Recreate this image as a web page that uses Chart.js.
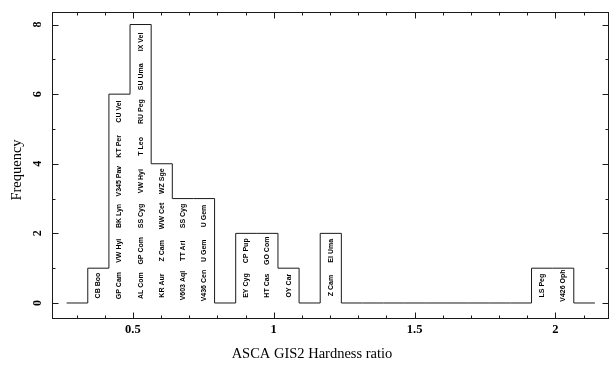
<!DOCTYPE html>
<html>
<head>
<meta charset="utf-8">
<script src="https://cdn.jsdelivr.net/npm/chart.js@4/dist/chart.umd.min.js"></script>
<style>
  html, body { margin: 0; padding: 0; background: #fff; }
  #wrap { width: 609px; height: 366px; position: relative; }
</style>
</head>
<body>
<div id="wrap"><canvas id="c" width="609" height="366"></canvas></div>
<script>
// ---- data ----
const binEdges = [0.265, 0.34, 0.415, 0.49, 0.565, 0.64, 0.715, 0.79, 0.865, 0.94, 1.015,
                  1.09, 1.165, 1.24, 1.315, 1.39, 1.465, 1.54, 1.615, 1.69, 1.765, 1.84,
                  1.915, 1.99, 2.065, 2.14];
const binCounts = [0, 1, 6, 8, 4, 3, 3, 0, 2, 2, 1, 0, 2, 0, 0, 0, 0, 0, 0, 0, 0, 0, 1, 1, 0];
const binObjects = [
  [],
  ["CB Boo"],
  ["GP Cam", "VW Hyi", "BK Lyn", "V345 Pav", "KT Per", "CU Vel"],
  ["AL Com", "GP Com", "SS Cyg", "VW Hyi", "T Leo", "RU Peg", "SU Uma", "IX Vel"],
  ["KR Aur", "Z Cam", "WW Cet", "WZ Sge"],
  ["V603 Aql", "TT Ari", "SS Cyg"],
  ["V436 Cen", "U Gem", "U Gem"],
  [],
  ["EY Cyg", "CP Pup"],
  ["HT Cas", "GO Com"],
  ["OY Car"],
  [],
  ["Z Cam", "EI Uma"],
  [], [], [], [], [], [], [], [], [],
  ["LS Peg"],
  ["V426 Oph"],
  []
];
const xTickValues = [0.5, 1, 1.5, 2];
const xTickLabels = ["0.5", "1", "1.5", "2"];
const yTickValues = [0, 2, 4, 6, 8];
const yTickLabels = ["0", "2", "4", "6", "8"];
const xTitle = "ASCA GIS2 Hardness ratio";
const yTitle = "Frequency";

// step points: each count holds from its left edge to the next edge
const stepPoints = [];
binCounts.forEach((c, i) => {
  stepPoints.push({ x: binEdges[i], y: c });
});
stepPoints.push({ x: binEdges[binEdges.length - 1], y: binCounts[binCounts.length - 1] });

const INK = '#1a1a1a';
const SERIF = '"Liberation Serif", "DejaVu Serif", serif';

const decor = {
  id: 'decor',
  afterDatasetsDraw(chart) {
    const { ctx, scales: { x, y } } = chart;
    ctx.save();
    ctx.fillStyle = '#000';
    ctx.font = 'bold 7px "Liberation Sans", Arial, sans-serif';
    ctx.textAlign = 'center';
    ctx.textBaseline = 'middle';
    binObjects.forEach((names, i) => {
      const cx = Math.round(x.getPixelForValue((binEdges[i] + binEdges[i + 1]) / 2));
      names.forEach((n, j) => {
        const cy = y.getPixelForValue(j + 0.5);
        ctx.save();
        ctx.translate(cx, cy);
        ctx.rotate(-Math.PI / 2);
        ctx.fillText(n, 0, 0);
        ctx.restore();
      });
    });
    ctx.restore();
  },
  afterDraw(chart) {
    const { ctx, chartArea: a, scales: { x, y } } = chart;
    ctx.save();
    ctx.strokeStyle = INK;
    ctx.lineWidth = 1;
    const L = Math.round(a.left) + 0.5, R = Math.round(a.right) - 0.5;
    const T = Math.round(a.top) + 0.5, B = Math.round(a.bottom) - 0.5;
    ctx.strokeRect(L, T, R - L, B - T);
    ctx.beginPath();
    for (let k = 3; k <= 21; k++) {
      const v = k / 10;
      const major = xTickValues.some(t => Math.abs(t - v) < 1e-6);
      const len = major ? 6 : 3;
      const px = Math.round(x.getPixelForValue(v)) + 0.5;
      ctx.moveTo(px, B); ctx.lineTo(px, B - len);
      ctx.moveTo(px, T); ctx.lineTo(px, T + len);
    }
    for (let k = 0; k <= 8; k++) {
      const major = yTickValues.includes(k);
      const len = major ? 6 : 3;
      const py = Math.round(y.getPixelForValue(k)) + 0.5;
      ctx.moveTo(L, py); ctx.lineTo(L + len, py);
      ctx.moveTo(R, py); ctx.lineTo(R - len, py);
    }
    ctx.stroke();
    ctx.fillStyle = '#000';
    ctx.font = 'bold 12px ' + SERIF;
    ctx.textAlign = 'center';
    ctx.textBaseline = 'middle';
    yTickValues.forEach((v, i) => {
      const py = y.getPixelForValue(v);
      ctx.save();
      ctx.translate(a.left - 14, py);
      ctx.rotate(-Math.PI / 2);
      ctx.fillText(yTickLabels[i], 0, 0);
      ctx.restore();
    });
    // axis titles
    ctx.font = '14.5px ' + SERIF;
    ctx.fillText(xTitle, 312, 354);
    ctx.save();
    ctx.translate(17, 170);
    ctx.rotate(-Math.PI / 2);
    ctx.fillText(yTitle, 0, 0);
    ctx.restore();
    ctx.restore();
  }
};

new Chart(document.getElementById('c'), {
  type: 'line',
  data: {
    datasets: [{
      data: stepPoints,
      stepped: 'before',
      borderColor: INK,
      borderWidth: 1,
      pointRadius: 0,
      fill: false,
      tension: 0
    }]
  },
  options: {
    responsive: false,
    animation: false,
    devicePixelRatio: 1,
    layout: { padding: { top: 12, right: 0, bottom: 0, left: 0 } },
    plugins: { legend: { display: false }, tooltip: { enabled: false } },
    scales: {
      x: {
        type: 'linear',
        min: 0.213,
        max: 2.19,
        afterBuildTicks(s) { s.ticks = xTickValues.map(v => ({ value: v })); },
        afterFit(s) { s.height = 47; },
        grid: { display: false, drawTicks: false },
        border: { display: false },
        ticks: {
          padding: 3,
          color: '#000',
          font: { family: SERIF, size: 12.5, weight: 'bold' },
          callback(v) { const i = xTickValues.indexOf(v); return i >= 0 ? xTickLabels[i] : ''; }
        },
        title: { display: false }
      },
      y: {
        type: 'linear',
        min: -0.46,
        max: 8.36,
        afterBuildTicks(s) { s.ticks = yTickValues.map(v => ({ value: v })); },
        afterFit(s) { s.width = 52; },
        grid: { display: false, drawTicks: false },
        border: { display: false },
        ticks: { display: false },
        title: { display: false }
      }
    }
  },
  plugins: [decor]
});
</script>
</body>
</html>
